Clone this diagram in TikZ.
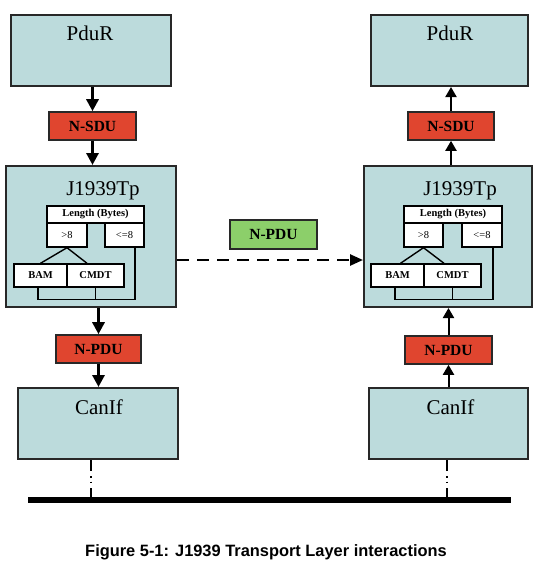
\documentclass[tikz,border=0pt]{standalone}
\usepackage{fontspec}
\setmainfont{Liberation Serif}
\newfontfamily\capfont{Liberation Sans}
\usetikzlibrary{arrows.meta,calc}
\definecolor{boxblue}{RGB}{188,219,220}
\definecolor{pdured}{RGB}{224,69,47}
\definecolor{pdugreen}{RGB}{140,207,106}
\definecolor{edgegray}{RGB}{40,40,40}
\tikzset{
  blk/.style={draw=edgegray, line width=2pt, fill=boxblue, inner sep=0pt},
  big/.style={font=\fontsize{21}{21}\selectfont, anchor=base, inner sep=0pt},
  tag/.style={draw=edgegray, line width=1.6pt, inner sep=0pt, minimum height=28pt, font=\bfseries\fontsize{15.5}{15.5}\selectfont},
  redtag/.style={tag, fill=pdured},
  greentag/.style={tag, fill=pdugreen},
  cell/.style={draw=black, line width=1.4pt, fill=white, inner sep=0pt, font=\fontsize{10.5}{10.5}\selectfont},
  bcell/.style={cell, font=\bfseries\fontsize{10.5}{10.5}\selectfont},
  wire/.style={line width=1.4pt},
  downarrow/.style={line width=3pt, -{Triangle[length=12pt,width=12pt]}},
  uparrow/.style={line width=2pt, -{Triangle[length=10pt,width=11pt]}},
  dasharrow/.style={line width=2.5pt, dash pattern=on 12pt off 8pt, -{Triangle[length=13pt,width=11pt]}},
  buswire/.style={line width=2pt, dash pattern=on 11pt off 5pt on 1.5pt off 4pt on 1.5pt off 5pt on 30pt},
  busbar/.style={line width=6pt},
  captext/.style={font=\capfont\bfseries\fontsize{16.4}{16.4}\selectfont, anchor=base, inner sep=0pt}
}
\begin{document}
\begin{tikzpicture}[x=1pt,y=-1pt]
\useasboundingbox (0,0) rectangle (545,568);

% ---------- left column ----------
\node[blk, minimum width=160pt, minimum height=71pt] (pdurL) at (91,50.5) {};
\node[big] (pdurLt) at (90,40) {PduR};
\node[redtag, minimum width=87pt] (nsduL) at (92.5,126) {N-SDU};
\node[blk, minimum width=170pt, minimum height=141pt] (tpL) at (91,236.5) {};
\node[big] (tpLt) at (103,195) {J1939Tp};
\node[bcell, minimum width=97pt, minimum height=17pt] (lenL) at (95.5,214.5) {Length (Bytes)};
\node[cell, minimum width=40pt, minimum height=24pt] (gtL) at (67,235) {>8};
\node[cell, minimum width=39pt, minimum height=24pt] (leL) at (124.5,235) {<=8};
\node[bcell, minimum width=53pt, minimum height=23pt] (bamL) at (40.5,275.5) {BAM};
\node[bcell, minimum width=57pt, minimum height=23pt] (cmdtL) at (95.5,275.5) {CMDT};
\draw[wire] (bamL.north) -- (gtL.south) -- ([xshift=-8.5pt]cmdtL.north);
\draw[wire] ([xshift=-2.5pt]bamL.south) -- ++(0,12) -| ([xshift=10.5pt]leL.south);
\draw[wire] (cmdtL.south) -- ++(0,12);
\node[redtag, minimum width=85pt] (npduL) at (98.5,349) {N-PDU};
\node[blk, minimum width=160pt, minimum height=71pt] (canL) at (98,423.5) {};
\node[big] (canLt) at (99,414) {CanIf};

\draw[downarrow] (pdurL.south -| nsduL.north) -- (nsduL.north);
\draw[downarrow] (nsduL.south) -- (nsduL.south |- tpL.north);
\draw[downarrow] (npduL.north |- tpL.south) -- (npduL.north);
\draw[downarrow] (npduL.south) -- (npduL.south |- canL.north);

% ---------- right column ----------
\node[blk, minimum width=157pt, minimum height=71pt] (pdurR) at (449.5,50.5) {};
\node[big] (pdurRt) at (450,40) {PduR};
\node[redtag, minimum width=86pt] (nsduR) at (451,126) {N-SDU};
\node[blk, minimum width=168pt, minimum height=141pt] (tpR) at (448,236.5) {};
\node[big] (tpRt) at (460,195) {J1939Tp};
\node[bcell, minimum width=98pt, minimum height=17pt] (lenR) at (453,214.5) {Length (Bytes)};
\node[cell, minimum width=39pt, minimum height=24pt] (gtR) at (423.5,235) {>8};
\node[cell, minimum width=40pt, minimum height=24pt] (leR) at (482,235) {<=8};
\node[bcell, minimum width=53pt, minimum height=23pt] (bamR) at (397.5,275.5) {BAM};
\node[bcell, minimum width=57pt, minimum height=23pt] (cmdtR) at (452.5,275.5) {CMDT};
\draw[wire] ([xshift=3pt]bamR.north) -- (gtR.south) -- ([xshift=-8.5pt]cmdtR.north);
\draw[wire] ([xshift=-2.5pt]bamR.south) -- ++(0,12) -| ([xshift=11pt]leR.south);
\draw[wire] (cmdtR.south) -- ++(0,12);
\node[redtag, minimum width=87pt] (npduR) at (448.5,350) {N-PDU};
\node[blk, minimum width=159pt, minimum height=71pt] (canR) at (448.5,423.5) {};
\node[big] (canRt) at (450.5,414) {CanIf};

\draw[uparrow] (npduR.south |- canR.north) -- (npduR.south);
\draw[uparrow] (npduR.north) -- (npduR.north |- tpR.south);
\draw[uparrow] (nsduR.south |- tpR.north) -- (nsduR.south);
\draw[uparrow] (nsduR.north) -- (nsduR.north |- pdurR.south);

% ---------- middle ----------
\node[greentag, minimum width=87pt, minimum height=29pt] (npduM) at (273.5,234.5) {N-PDU};
\coordinate (dashy) at (0,260);
\draw[dasharrow] (tpL.east |- dashy) -- (tpR.west |- dashy);

% ---------- bus ----------
\coordinate (busA) at (28,500);
\coordinate (busB) at (511,500);
\coordinate (tapL) at (90.5,500);
\coordinate (tapR) at (447,500);
\draw[buswire] (canL.south -| tapL) -- (tapL);
\draw[buswire] (canR.south -| tapR) -- (tapR);
\draw[busbar] (busA) -- (busB);

% ---------- caption ----------
\node[captext] (cap) at (266,556) {Figure 5-1: J1939 Transport Layer interactions};
\end{tikzpicture}
\end{document}
